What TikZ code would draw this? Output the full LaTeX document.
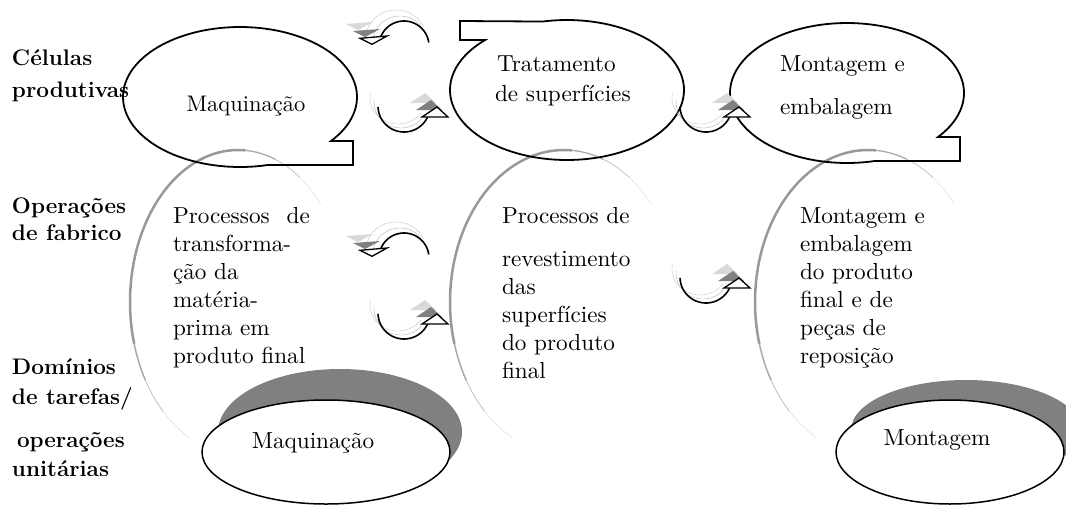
\documentclass[tikz,border=0pt]{standalone}
\newcommand\fadeEll[3]{%
  \draw[black!15, line width=0.4pt] plot[domain=-55:-40, samples=10] ({#1+#3*cos(\x)},{#2+152*sin(\x)});
  \draw[black!25, line width=0.7pt] plot[domain=-70:-55, samples=10] ({#1+#3*cos(\x)},{#2+152*sin(\x)});
  \draw[black!33, line width=1.3pt] plot[domain=-86:-70, samples=10] ({#1+#3*cos(\x)},{#2+152*sin(\x)});
  \draw[black!40, line width=2.5pt] plot[domain=-196:-86, samples=50] ({#1+#3*cos(\x)},{#2+152*sin(\x)});
  \draw[black!33, line width=1.5pt] plot[domain=-211:-196, samples=10] ({#1+#3*cos(\x)},{#2+152*sin(\x)});
  \draw[black!25, line width=0.8pt] plot[domain=-226:-211, samples=10] ({#1+#3*cos(\x)},{#2+152*sin(\x)});
  \draw[black!15, line width=0.4pt] plot[domain=-243:-226, samples=10] ({#1+#3*cos(\x)},{#2+152*sin(\x)});
}
\newcommand\tx[1]{\scalebox{2.32}{#1}}
\tikzset{
  every node/.style={inner sep=0pt, outer sep=0pt},
  txt/.style={font=\fontsize{10}{12}\selectfont, anchor=base west},
  ctxt/.style={font=\fontsize{10}{12}\selectfont, anchor=base},
  lab/.style={font=\fontsize{22.5}{27}\selectfont\bfseries, anchor=base west},
  bubble/.style={draw=black, line width=1.8pt, line join=miter},
  bot/.style={draw=black, line width=1.5pt, fill=white},
  arcline/.style={draw=black, line width=1.6pt},
  headopen/.style={draw=black, line width=1.3pt, fill=white, line join=miter},
  arrL/.pic={
    \draw[black!22, line width=0.4pt] plot[domain=-165:-25, samples=30] ({-8+30*cos(\x)},{-8+28*sin(\x)});
    \draw[black!30, line width=0.4pt] plot[domain=-170:-40, samples=30] ({-4+27*cos(\x)},{-4+26*sin(\x)});
    \fill[black!15] (-58,-22) -- (-31,-24) -- (-46,-16) -- cycle;
    \fill[black!50] (-51,-15) -- (-24,-17) -- (-39,-9) -- cycle;
    \draw[arcline] plot[domain=-160:-8, samples=40] ({25*cos(\x)},{25*sin(\x)});
    \draw[headopen] (-44,-7.7) -- (-17,-10) -- (-32,-1.7) -- cycle;
  },
  arrR/.pic={
    \draw[black!22, line width=0.4pt] plot[domain=35:190, samples=30] ({-6+28*cos(\x)},{-8+26*sin(\x)});
    \draw[black!30, line width=0.4pt] plot[domain=40:185, samples=30] ({-3+27*cos(\x)},{-4+26*sin(\x)});
    \fill[black!15] (6,-3) -- (32,-3) -- (21,-13) -- cycle;
    \fill[black!50] (12,4) -- (38,4) -- (27,-6) -- cycle;
    \draw[arcline] plot[domain=25:178, samples=40] ({26*cos(\x)},{26*sin(\x)});
    \draw[headopen] (18,11) -- (44,11) -- (33,1) -- cycle;
  },
}
\begin{document}
\begin{tikzpicture}[x=1pt,y=-1pt]
\fill[white] (0,0) rectangle (1066,504);
\useasboundingbox (0,0) rectangle (1066,504);

% faded outline ellipses (middle row)
\fadeEll{238}{302}{108}
\fadeEll{564}{302}{114}
\fadeEll{868}{302}{113}

% top bubbles
\draw[bubble] plot[domain=76.2:398.9, samples=120] ({240+117*cos(\x)},{97+70*sin(\x)}) -- (353,141) -- (353,165) -- cycle;
\draw[bubble] plot[domain=258:585.6, samples=120] ({567+117*cos(\x)},{90+70*sin(\x)}) -- (460,40) -- (460,21) -- cycle;
\draw[bubble] plot[domain=76.2:398.9, samples=120] ({847+117*cos(\x)},{93+70*sin(\x)}) -- (960,137) -- (960,161) -- cycle;

% circular arrows
\pic (a1) at (404,46) {arrL};
\pic (a2) at (404,106) {arrR};
\pic (a3) at (706,106) {arrR};
\pic (a4) at (404,258) {arrL};
\pic (a5) at (404,313) {arrR};
\pic (a6) at (706,277) {arrR};

% bottom ellipses with shadow
\fill[black!50] (340,432) ellipse [x radius=122pt, y radius=63pt];
\draw[bot] (326,452) ellipse [x radius=124pt, y radius=52pt];
\fill[black!50] (966,430) ellipse [x radius=115pt, y radius=50pt];
\draw[bot] (950,452) ellipse [x radius=114pt, y radius=52pt];

% left labels
\node[lab] (l1) at (12,65) {Células};
\node[lab] (l2) at (12,97) {produtivas};
\node[lab] (l3) at (12,213) {Operações};
\node[lab] (l4) at (12,240) {de fabrico};
\node[lab] (l5) at (12,374) {Domínios};
\node[lab] (l6) at (12,404) {de tarefas/};
\node[lab] (l7) at (17,447) {operações};
\node[lab] (l8) at (12,476) {unitárias};

% top texts
\node[ctxt] (t1) at (246,111) {\scalebox{2.25}{Maquinação}};
\node[txt] (t2a) at (497,71) {\tx{Tratamento}};
\node[txt] (t2b) at (495,101) {\tx{de superfícies}};
\node[txt] (t3a) at (780,71) {\tx{Montagem e}};
\node[txt] (t3b) at (780,114) {\tx{embalagem}};

% middle texts
\node[txt] (m1a) at (173,223) {\tx{\makebox[59pt][s]{Processos de}}};
\node[txt] (m1b) at (173,251) {\tx{transforma-}};
\node[txt] (m1c) at (173,279) {\tx{ção da}};
\node[txt] (m1d) at (173,307) {\tx{matéria-}};
\node[txt] (m1e) at (173,335) {\tx{prima em}};
\node[txt] (m1f) at (173,363) {\tx{produto final}};

\node[txt] (m2a) at (502,223) {\tx{Processos de}};
\node[txt] (m2b) at (502,266) {\tx{revestimento}};
\node[txt] (m2c) at (502,294) {\tx{das}};
\node[txt] (m2d) at (502,322) {\tx{superfícies}};
\node[txt] (m2e) at (502,350) {\tx{do produto}};
\node[txt] (m2f) at (502,378) {\tx{final}};

\node[txt] (m3a) at (800,223) {\tx{Montagem e}};
\node[txt] (m3b) at (800,251) {\tx{embalagem}};
\node[txt] (m3c) at (800,279) {\tx{do produto}};
\node[txt] (m3d) at (800,307) {\tx{final e de}};
\node[txt] (m3e) at (800,335) {\tx{peças de}};
\node[txt] (m3f) at (800,363) {\tx{reposição}};

% bottom texts
\node[ctxt] (b1) at (313,448) {\tx{Maquinação}};
\node[ctxt] (b2) at (937,445) {\tx{Montagem}};
\end{tikzpicture}
\end{document}
